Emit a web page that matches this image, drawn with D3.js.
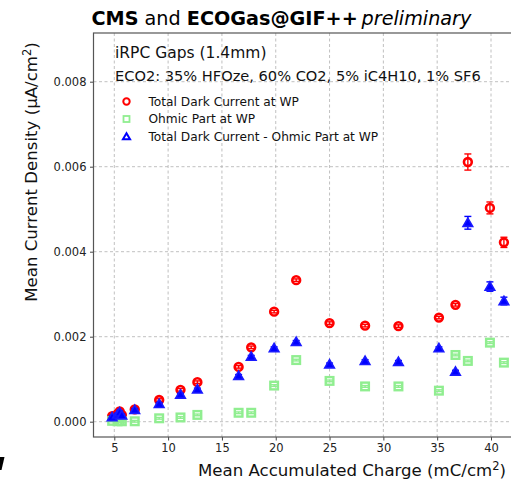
<!DOCTYPE html>
<html>
<head>
<meta charset="utf-8">
<script src="https://cdn.jsdelivr.net/npm/d3@7"></script>
<style>
  body { margin: 0; background: #fff; }
  svg { display: block; font-family: "DejaVu Sans", sans-serif; }
</style>
</head>
<body>
<div id="chart"></div>
<script>
'use strict';

// accumulated charge (mC/cm2)
const charge = [4.8, 5.3, 5.5, 5.7, 6.9, 9.17, 11.15, 12.72, 16.55, 17.72, 19.85, 21.9, 25.0, 28.3, 31.4, 35.16, 36.7, 37.85, 39.9, 41.2];
// total dark current at WP (uA/cm2)
const totalCurrent = [0.00013, 0.00018, 0.00024, 0.00016, 0.00029, 0.00051, 0.00075, 0.00093, 0.00129, 0.00175, 0.00259, 0.00333, 0.00232, 0.00226, 0.00225, 0.00245, 0.00275, 0.00611, 0.00503, 0.00422];
const totalErr = [0.00003, 0.00003, 0.00003, 0.00003, 0.00003, 0.00003, 0.00003, 0.00003, 0.00003, 0.00003, 0.00003, 0.00003, 0.00003, 0.00003, 0.00003, 0.00003, 0.00003, 0.00019, 0.00014, 0.00012];
// ohmic part at WP
const ohmicPart = [0.00002, 0.00001, 0.00002, 0.00001, 0.00001, 0.00008, 0.0001, 0.00016, 0.00021, 0.00021, 0.00085, 0.00145, 0.00096, 0.00083, 0.00083, 0.00073, 0.00157, 0.00143, 0.00186, 0.00139];
const ohmicErr = [0.00002, 0.00002, 0.00002, 0.00002, 0.00002, 0.00002, 0.00002, 0.00002, 0.00002, 0.00002, 0.00002, 0.00002, 0.00002, 0.00002, 0.00002, 0.00002, 0.00002, 0.00002, 0.00002, 0.00002];
// total - ohmic
const diffCurrent = [0.00011, 0.00017, 0.00022, 0.00015, 0.00028, 0.00042, 0.00064, 0.00076, 0.00108, 0.00153, 0.00173, 0.00188, 0.00135, 0.00143, 0.00141, 0.00173, 0.00118, 0.00468, 0.00318, 0.00284];
const diffErr = [0.00003, 0.00003, 0.00003, 0.00003, 0.00003, 0.00003, 0.00003, 0.00003, 0.00003, 0.00003, 0.00003, 0.00003, 0.00003, 0.00003, 0.00003, 0.00003, 0.00003, 0.00015, 0.00011, 0.00009];

const xTicks = [5, 10, 15, 20, 25, 30, 35, 40];
const yTicks = [0, 0.002, 0.004, 0.006, 0.008];
const seriesNames = ["Total Dark Current at WP", "Ohmic Part at WP", "Total Dark Current - Ohmic Part at WP"];

const W = 511, H = 485;
const frame = { left: 93.5, right: 526, top: 33, bottom: 437 };

const svg = d3.select("#chart").append("svg")
    .attr("width", W).attr("height", H);

const x = d3.scaleLinear().domain([5, 40]).range([114.3, 491]);
const y = d3.scaleLinear().domain([0, 0.008]).range([421.7, 81.7]);

// grid
let grid = svg.append("g").attr("stroke", "#b0b0b0").attr("stroke-width", 0.8).attr("stroke-dasharray", "3,2.5");
grid.selectAll(".gx").data(xTicks).enter().append("line")
    .attr("x1", d => x(d)).attr("x2", d => x(d))
    .attr("y1", frame.top).attr("y2", frame.bottom);
grid.selectAll(".gy").data(yTicks).enter().append("line")
    .attr("x1", frame.left).attr("x2", frame.right)
    .attr("y1", d => y(d)).attr("y2", d => y(d));

// axes
svg.append("g")
    .attr("transform", "translate(0," + frame.bottom + ")")
    .call(d3.axisBottom(x).tickValues(xTicks).tickSize(3.5).tickPadding(3.5))
    .call(g => g.select(".domain").remove());
svg.append("g")
    .attr("transform", "translate(" + frame.left + ",0)")
    .call(d3.axisLeft(y).tickValues(yTicks).tickSize(3.5).tickPadding(3.5).tickFormat(d => d.toFixed(3)))
    .call(g => g.select(".domain").remove());
svg.selectAll(".tick text").attr("font-size", "11.5px").attr("fill", "#222").attr("font-family", "DejaVu Sans");
svg.selectAll(".tick line").attr("stroke", "#444");

// frame
svg.append("rect")
    .attr("x", frame.left).attr("y", frame.top)
    .attr("width", frame.right - frame.left).attr("height", frame.bottom - frame.top)
    .attr("fill", "none").attr("stroke", "#555").attr("stroke-width", 1.2);

let plot = svg.append("g");

function errorBars(vals, errs, color) {
    let g = plot.append("g").attr("stroke", color).attr("stroke-width", 1.4);
    charge.forEach((c, i) => {
        g.append("line").attr("x1", x(c)).attr("x2", x(c))
            .attr("y1", y(vals[i] - errs[i])).attr("y2", y(vals[i] + errs[i]));
        [vals[i] - errs[i], vals[i] + errs[i]].forEach(v => {
            g.append("line").attr("x1", x(c) - 3.5).attr("x2", x(c) + 3.5)
                .attr("y1", y(v)).attr("y2", y(v));
        });
    });
}

// total dark current
errorBars(totalCurrent, totalErr, "red");
plot.append("g").selectAll("circle").data(charge).enter().append("circle")
    .attr("cx", d => x(d)).attr("cy", (d, i) => y(totalCurrent[i]))
    .attr("r", 3.9).attr("fill", "none").attr("stroke", "red").attr("stroke-width", 2.6);

// ohmic part
errorBars(ohmicPart, ohmicErr, "#90ee90");
plot.append("g").selectAll("rect").data(charge).enter().append("rect")
    .attr("x", d => x(d) - 3.8).attr("y", (d, i) => y(ohmicPart[i]) - 3.8)
    .attr("width", 7.6).attr("height", 7.6)
    .attr("fill", "none").attr("stroke", "#90ee90").attr("stroke-width", 2.4);

// difference
const tri = d3.symbol().type(d3.symbolTriangle).size(40);
errorBars(diffCurrent, diffErr, "blue");
plot.append("g").selectAll("path").data(charge).enter().append("path")
    .attr("d", tri)
    .attr("transform", (d, i) => "translate(" + x(d) + "," + (y(diffCurrent[i]) + 0.8) + ")")
    .attr("fill", "blue").attr("stroke", "#1a1aff").attr("stroke-width", 1.6);

// annotations
svg.append("text").attr("x", 115).attr("y", 57.5)
    .attr("font-size", "15.5px").attr("fill", "#111").text("iRPC Gaps (1.4mm)");
svg.append("text").attr("x", 115).attr("y", 81)
    .attr("font-size", "14.6px").attr("fill", "#111").text("ECO2: 35% HFOze, 60% CO2, 5% iC4H10, 1% SF6");

// legend
let legend = svg.append("g");
const legY = [101.5, 119, 136.5];
legend.append("circle").attr("cx", 126.5).attr("cy", legY[0]).attr("r", 3.2)
    .attr("fill", "none").attr("stroke", "red").attr("stroke-width", 2);
legend.append("rect").attr("x", 123.5).attr("y", legY[1] - 3).attr("width", 6).attr("height", 6)
    .attr("fill", "none").attr("stroke", "#90ee90").attr("stroke-width", 1.8);
legend.append("path").attr("d", d3.symbol().type(d3.symbolTriangle).size(22))
    .attr("transform", "translate(126.5," + (legY[2] + 0.8) + ")")
    .attr("fill", "none").attr("stroke", "blue").attr("stroke-width", 2);
legend.selectAll("text").data(seriesNames).enter().append("text")
    .attr("x", 148.5).attr("y", (d, i) => legY[i] + 4.3)
    .attr("font-size", "12.2px").attr("fill", "#111").text(d => d);

// title
let title = svg.append("text").attr("x", 91.5).attr("y", 25).attr("font-size", "19.2px").attr("fill", "#000");
title.append("tspan").attr("font-weight", "bold").text("CMS");
title.append("tspan").text(" and ");
title.append("tspan").attr("font-weight", "bold").text("ECOGas@GIF++");
title.append("tspan").attr("font-style", "italic").text("\u2009preliminary");

// axis labels
let xl = svg.append("text").attr("x", 352).attr("y", 476).attr("text-anchor", "middle")
    .attr("font-size", "16.6px").attr("fill", "#111");
xl.append("tspan").text("Mean Accumulated Charge (mC/cm");
xl.append("tspan").attr("font-size", "11.5px").attr("dy", -6.5).text("2");
xl.append("tspan").attr("dy", 6.5).text(")");

let yl = svg.append("text").attr("transform", "translate(37,172) rotate(-90)").attr("text-anchor", "middle")
    .attr("font-size", "16.6px").attr("fill", "#111");
yl.append("tspan").text("Mean Current Density (\u03bcA/cm");
yl.append("tspan").attr("font-size", "11.5px").attr("dy", -6.5).text("2");
yl.append("tspan").attr("dy", 6.5).text(")");

// cropped edge artifact
svg.append("path").attr("d", "M0,457 L4.5,457 L1.5,470 L0,470 Z").attr("fill", "#000");
</script>
</body>
</html>
